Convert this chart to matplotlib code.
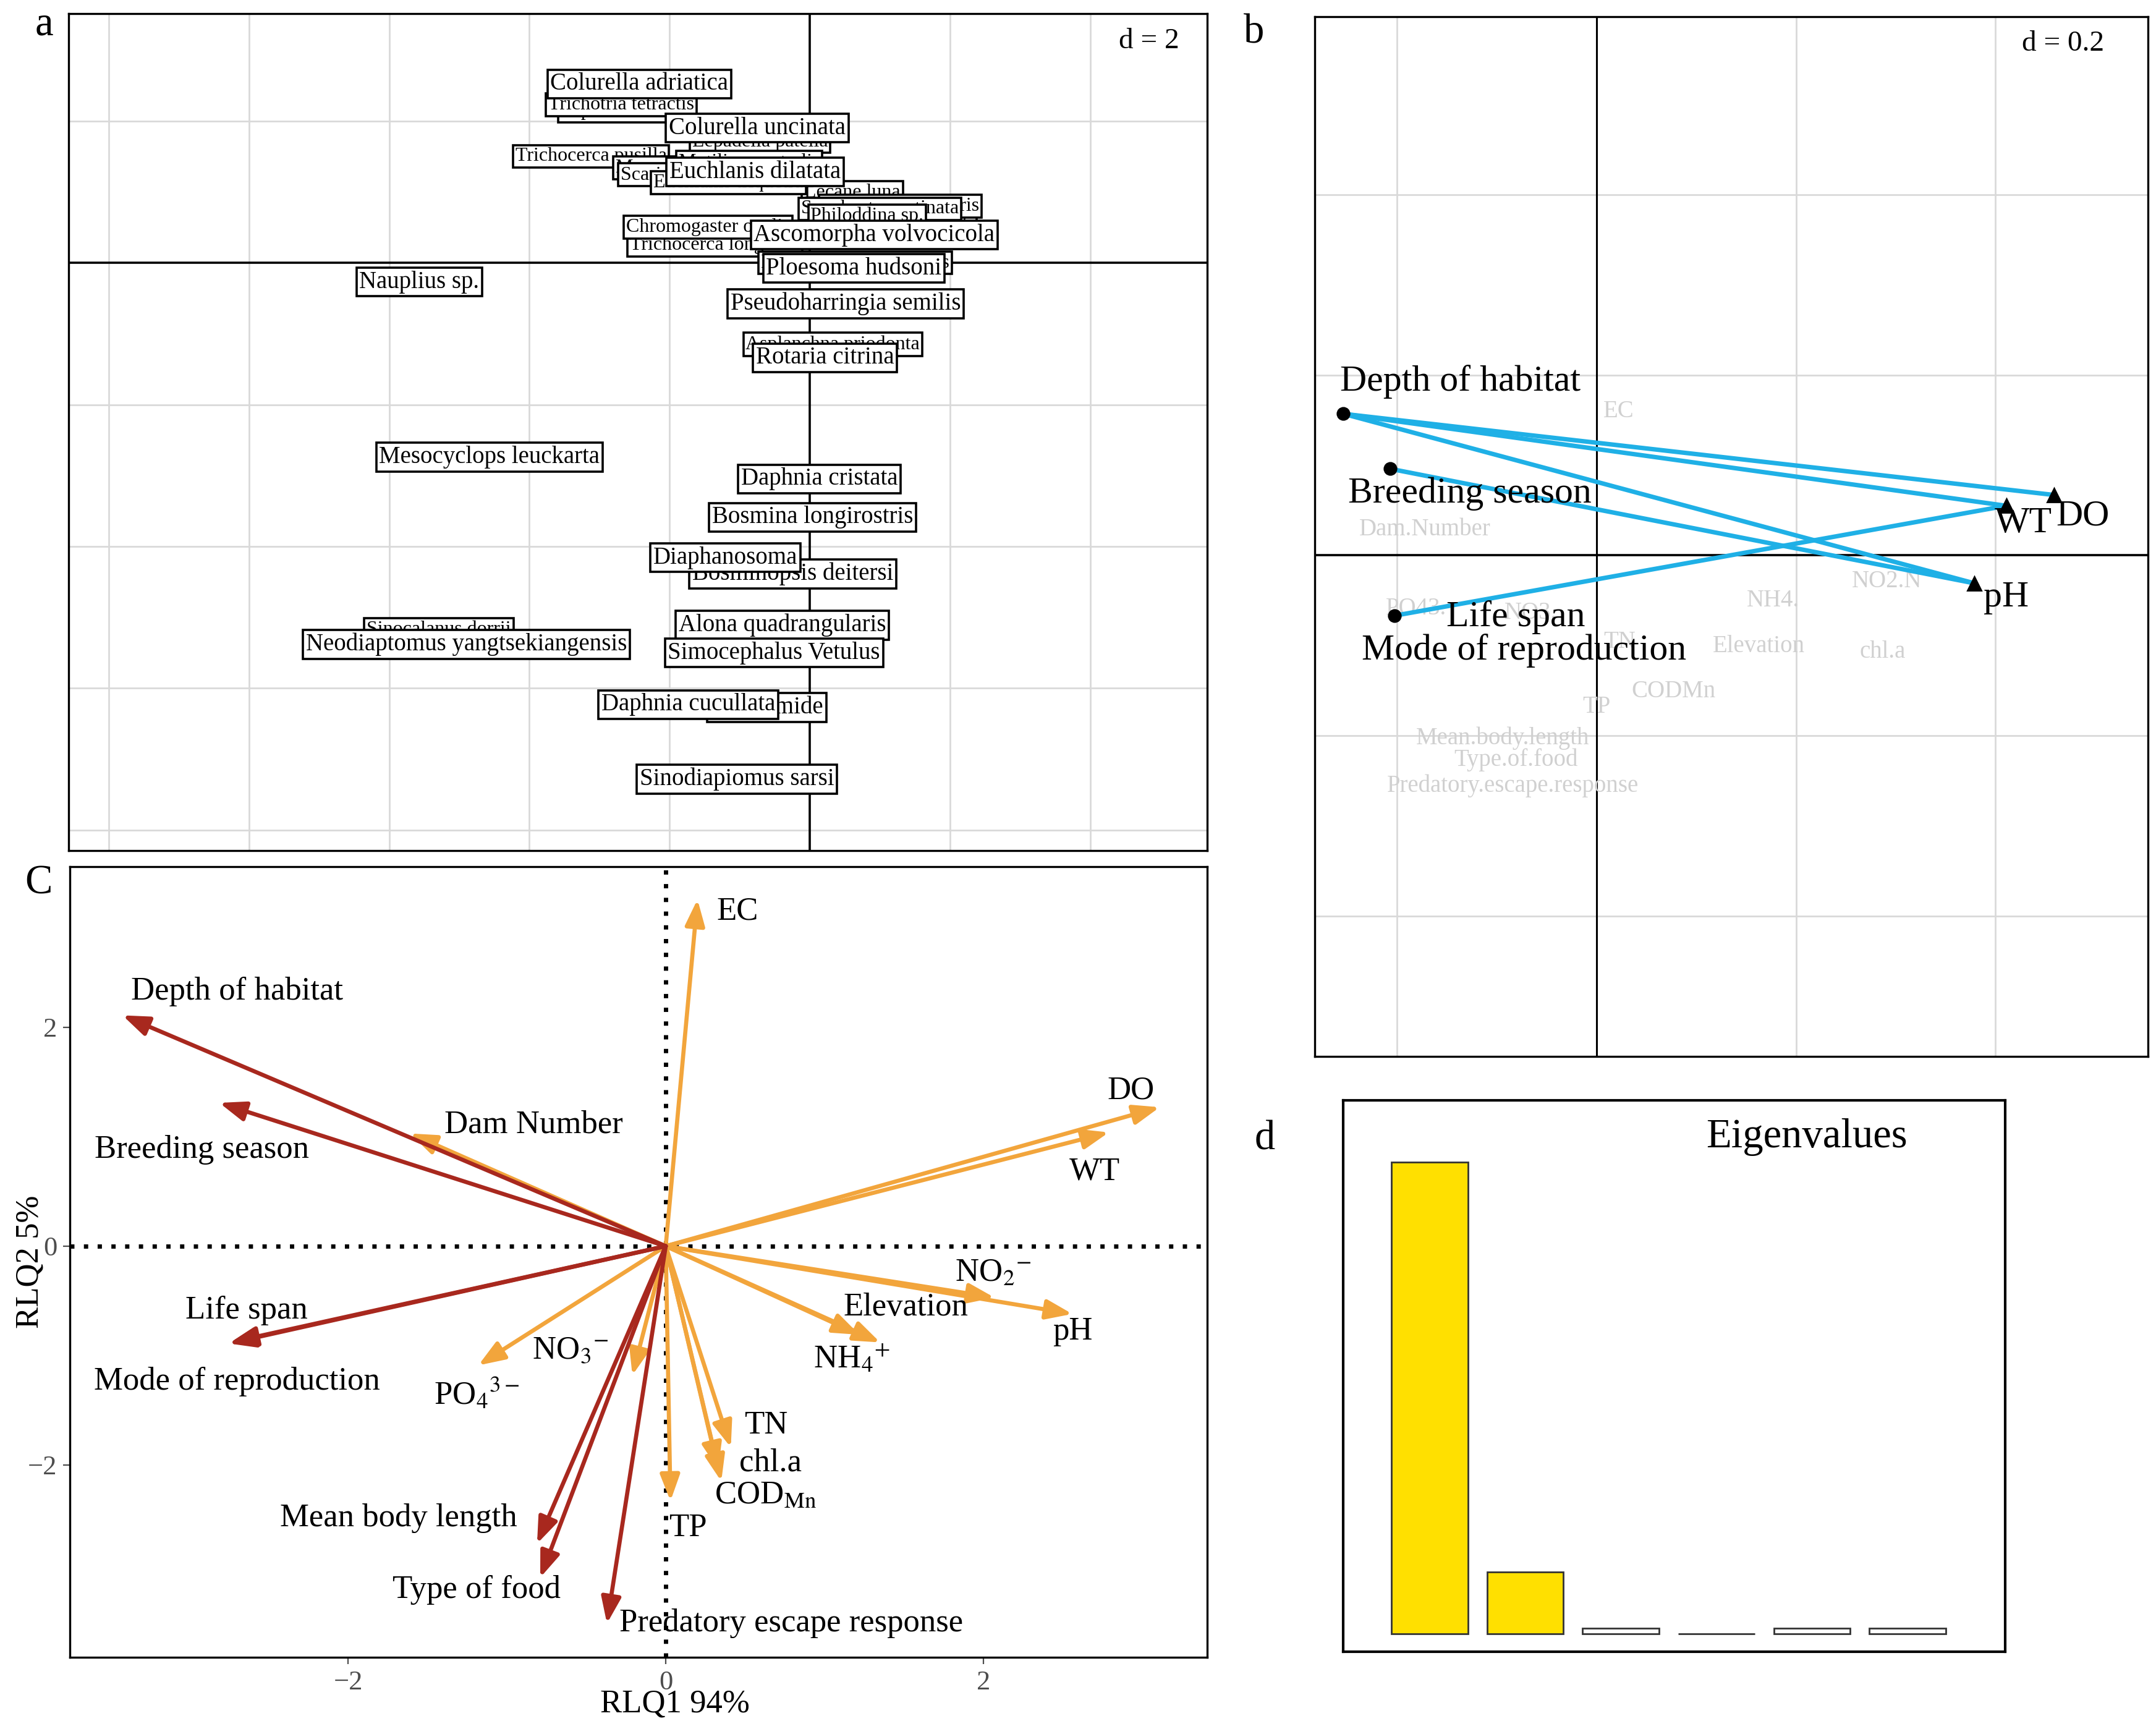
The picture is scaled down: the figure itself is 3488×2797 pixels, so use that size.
import numpy as np
import matplotlib
matplotlib.use("Agg")
import matplotlib.pyplot as plt

plt.rcParams['font.family'] = ['Liberation Serif', 'DejaVu Serif']
plt.rcParams['mathtext.fontset'] = 'stix'

# ---- panel a: species scores (label, x, y, small font?) ----
sp_names = ["Lepadella ovalis", "Trichotria tetractis", "Colurella adriatica",
            "Lepadella patella", "Colurella uncinata", "Trichocerca pusilla",
            "Monostyla lunaris", "Mytilina ventralis", "Lecane luna",
            "Scaridium longicaudum", "Euchlanis triquetra", "Euchlanis dilatata",
            "Keratella valga", "Keratella cochlearis", "Synchaeta pectinata",
            "Philoddina sp.", "Trichocerca longiseta", "Chromogaster ovalis",
            "Brachionus calyciflorus", "Ascomorpha volvocicola", "Ploesoma hudsoni",
            "Nauplius sp.", "Pseudoharringia semilis", "Asplanchna priodonta",
            "Rotaria citrina", "Mesocyclops leuckarta", "Daphnia cristata",
            "Bosmina longirostris", "Bosminopsis deitersi", "Diaphanosoma",
            "Sinocalanus dorrii", "Neodiaptomus yangtsekiangensis",
            "Alona quadrangularis", "Simocephalus Vetulus", "Diaptomide",
            "Daphnia cucullata", "Sinodiapiomus sarsi"]
sp_x = [-2.63, -2.69, -2.43, -0.71, -0.75, -3.12, -1.75, -0.86, 0.61, -1.35, -1.16,
        -0.78, 1.49, 1.29, 1.00, 0.82, -1.35, -1.45, 0.65, 0.92, 0.63, -5.57, 0.51,
        0.33, 0.22, -4.57, 0.14, 0.04, -0.24, -1.20, -5.29, -4.90, -0.39, -0.51,
        -0.61, -1.73, -1.04]
sp_y = [2.14, 2.23, 2.52, 1.71, 1.90, 1.50, 1.34, 1.42, 0.99, 1.24, 1.13, 1.28,
        0.70, 0.80, 0.76, 0.66, 0.25, 0.50, 0.00, 0.39, -0.08, -0.27, -0.58, -1.15,
        -1.34, -2.74, -3.05, -3.59, -4.39, -4.16, -5.17, -5.38, -5.11, -5.50,
        -6.27, -6.23, -7.28]
sp_small = [1, 1, 0, 1, 0, 1, 1, 1, 1, 1, 1, 0, 1, 1, 1, 1, 1, 1, 1, 0, 0, 0, 0,
            1, 0, 0, 0, 0, 0, 0, 1, 0, 0, 0, 0, 0, 0]

# ---- panel b: fourth-corner links ----
tr_names = ["Depth of habitat", "Breeding season", "Life span"]
tr_x = [-0.254, -0.207, -0.203]
tr_y = [0.157, 0.096, -0.067]
env_names = ["DO", "WT", "pH"]
env_x = [0.459, 0.411, 0.379]
env_y = [0.067, 0.055, -0.031]
links = [(0, 0), (0, 1), (0, 2), (1, 2), (2, 1)]
grey_names = ["EC", "Dam.Number", "PO43.", "NO3.", "NH4.", "NO2.N", "TN",
              "Elevation", "chl.a", "CODMn", "TP", "Mean.body.length",
              "Type.of.food", "Predatory.escape.response"]
grey_x = [0.022, -0.172, -0.181, -0.066, 0.177, 0.291, 0.023, 0.163, 0.287,
          0.077, 0.0, -0.094, -0.081, -0.084]
grey_y = [0.160, 0.029, -0.059, -0.064, -0.050, -0.029, -0.096, -0.101,
          -0.107, -0.151, -0.168, -0.203, -0.227, -0.256]

# ---- panel c: RLQ arrows ----
trait_names = ["Depth of habitat", "Breeding season", "Life span",
               "Mode of reproduction", "Mean body length", "Type of food",
               "Predatory escape response"]
trait_x = [-3.42, -2.81, -2.75, -2.74, -0.81, -0.79, -0.37]
trait_y = [2.11, 1.31, -0.89, -0.88, -2.72, -3.03, -3.45]
trait_lx = [-2.70, -2.92, -2.64, -2.70, -1.68, -1.19, 0.79]
trait_ly = [2.33, 0.88, -0.59, -1.24, -2.49, -3.14, -3.45]

envc_names = ["EC", "Dam Number", "DO", "WT", r"NO$_2$$^{-}$", "pH",
              "Elevation", r"NH$_4$$^{+}$", r"NO$_3$$^{-}$", r"PO$_4$$^{3-}$",
              "TN", "chl.a", r"COD$_{\mathrm{Mn}}$", "TP"]
envc_x = [0.20, -1.61, 3.11, 2.79, 2.07, 2.56, 1.22, 1.35, -0.21, -1.18,
          0.41, 0.33, 0.35, 0.03]
envc_y = [3.17, 1.03, 1.27, 1.04, -0.47, -0.62, -0.81, -0.88, -1.18, -1.09,
          -1.84, -2.04, -2.15, -2.33]
envc_lx = [0.45, -0.83, 2.93, 2.70, 2.06, 2.56, 1.51, 1.17, -0.60, -1.19,
           0.63, 0.66, 0.63, 0.14]
envc_ly = [3.06, 1.11, 1.42, 0.68, -0.25, -0.78, -0.56, -1.03, -0.96, -1.35,
           -1.64, -1.98, -2.28, -2.58]

# ---- panel d: eigenvalues ----
eig = [3.43, 0.45, 0.04, 0.003, 0.04, 0.04]
eig_kept = 2

RED = '#a8281e'
ORANGE = '#f2a53c'
BLUE = '#1fb0e6'
GRID = '#d9d9d9'

fig = plt.figure(figsize=(17.44, 13.985), dpi=200)

# ================= panel a =================
ax = fig.add_axes([0.0319, 0.508, 0.528, 0.484])
ax.set_xlim(-10.57, 5.67)
ax.set_ylim(-8.29, 3.51)
for gx in np.arange(-10, 6, 2):
    if gx != 0:
        ax.axvline(gx, color=GRID, lw=1, zorder=0)
for gy in np.arange(-8, 4, 2):
    if gy != 0:
        ax.axhline(gy, color=GRID, lw=1, zorder=0)
ax.axvline(0, color='black', lw=1.3, zorder=1)
ax.axhline(0, color='black', lw=1.3, zorder=1)
for i, name in enumerate(sp_names):
    fs = 11.5 if sp_small[i] else 14
    ax.text(sp_x[i], sp_y[i], name, ha='center', va='center', fontsize=fs,
            zorder=2 + i,
            bbox=dict(boxstyle='square,pad=0.12', fc='white', ec='black', lw=1.3))
ax.set_xticks([])
ax.set_yticks([])
for s in ax.spines.values():
    s.set_linewidth(1.2)
ax.text(0.949, 0.967, "d = 2", transform=ax.transAxes, ha='center', va='center',
        fontsize=17)

# ================= panel b =================
ax = fig.add_axes([0.6097, 0.389, 0.3865, 0.6015])
ax.set_xlim(-0.283, 0.553)
ax.set_ylim(-0.556, 0.598)
for gx in [-0.2, 0.2, 0.4]:
    ax.axvline(gx, color=GRID, lw=1, zorder=0)
for gy in [-0.4, -0.2, 0.2, 0.4]:
    ax.axhline(gy, color=GRID, lw=1, zorder=0)
ax.axvline(0, color='black', lw=1.1, zorder=1)
ax.axhline(0, color='black', lw=1.3, zorder=1)
for i, name in enumerate(grey_names):
    ax.text(grey_x[i], grey_y[i], name, ha='center', va='center', fontsize=14,
            color='#d0d0d0', zorder=1)
for t, e in links:
    ax.plot([tr_x[t], env_x[e]], [tr_y[t], env_y[e]], color=BLUE, lw=2.6, zorder=3)
ax.plot(tr_x, tr_y, 'o', color='black', ms=7, zorder=4)
ax.plot(env_x, env_y, '^', color='black', ms=8, zorder=4)
b_lab = [("Depth of habitat", -0.137, 0.193), ("Breeding season", -0.127, 0.068),
         ("Life span", -0.081, -0.069), ("Mode of reproduction", -0.073, -0.106),
         ("DO", 0.488, 0.043), ("WT", 0.428, 0.035), ("pH", 0.411, -0.047)]
for name, lx, ly in b_lab:
    ax.text(lx, ly, name, ha='center', va='center', fontsize=21.5, zorder=5)
ax.set_xticks([])
ax.set_yticks([])
for s in ax.spines.values():
    s.set_linewidth(1.2)
ax.text(0.898, 0.974, "d = 0.2", transform=ax.transAxes, ha='center', va='center',
        fontsize=17)

# ================= panel c =================
ax = fig.add_axes([0.0325, 0.0414, 0.5275, 0.4574])
ax.set_xlim(-3.75, 3.41)
ax.set_ylim(-3.76, 3.47)
ax.axhline(0, color='black', lw=2.5, ls=(0, (1, 2.2)), zorder=1)
ax.axvline(0, color='black', lw=2.5, ls=(0, (1, 2.2)), zorder=1)
astyle = '-|>,head_length=0.8,head_width=0.3'
for i in range(len(envc_names)):
    ax.annotate('', xy=(envc_x[i], envc_y[i]), xytext=(0, 0),
                arrowprops=dict(arrowstyle=astyle, color=ORANGE, lw=2.4,
                                mutation_scale=16, shrinkA=0, shrinkB=0), zorder=2)
    ax.text(envc_lx[i], envc_ly[i], envc_names[i], ha='center', va='center',
            fontsize=19)
for i in range(len(trait_names)):
    ax.annotate('', xy=(trait_x[i], trait_y[i]), xytext=(0, 0),
                arrowprops=dict(arrowstyle=astyle, color=RED, lw=2.4,
                                mutation_scale=16, shrinkA=0, shrinkB=0), zorder=3)
    ax.text(trait_lx[i], trait_ly[i], trait_names[i], ha='center', va='center',
            fontsize=19)
ax.set_xticks([-2, 0, 2])
ax.set_yticks([-2, 0, 2])
ax.set_xticklabels(['\u22122', '0', '2'])
ax.set_yticklabels(['\u22122', '0', '2'])
ax.tick_params(labelsize=16, labelcolor='#4d4d4d', color='#4d4d4d', length=4)
ax.set_xlabel("RLQ1 94%", fontsize=19)
ax.set_ylabel("RLQ2 5%", fontsize=19)
ax.xaxis.set_label_coords(0.532, -0.040)
ax.yaxis.set_label_coords(-0.022, 0.5)
for s in ax.spines.values():
    s.set_linewidth(1.2)

# ================= panel d =================
ax = fig.add_axes([0.623, 0.0446, 0.307, 0.319])
bar_colors = ['#ffe000' if i < eig_kept else 'white' for i in range(len(eig))]
ax.bar(np.arange(len(eig)), eig, width=0.8, color=bar_colors, edgecolor='#333333',
       lw=1)
ax.set_xlim(-0.905, 6.02)
ax.set_ylim(-0.13, 3.88)
ax.set_xticks([])
ax.set_yticks([])
for s in ax.spines.values():
    s.set_linewidth(1.5)
ax.text(0.70, 0.933, "Eigenvalues", transform=ax.transAxes, ha='center',
        va='center', fontsize=24)

# panel letters
fig.text(0.0204, 0.9857, "a", fontsize=24, ha='center', va='center')
fig.text(0.5816, 0.981, "b", fontsize=24, ha='center', va='center')
fig.text(0.0179, 0.489, "C", fontsize=24, ha='center', va='center')
fig.text(0.5867, 0.341, "d", fontsize=24, ha='center', va='center')

fig.savefig("out.png", dpi=200)
